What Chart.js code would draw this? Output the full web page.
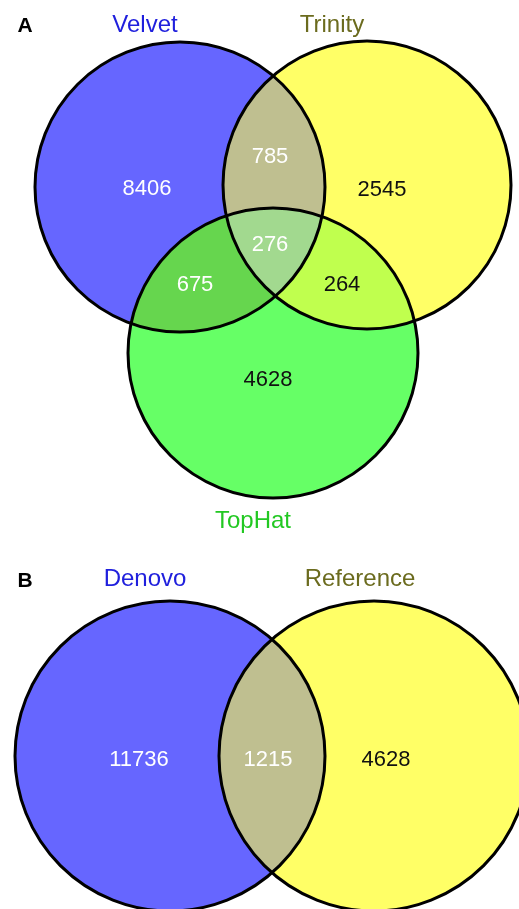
<!DOCTYPE html>
<html>
<head>
<meta charset="utf-8">
<script src="https://cdn.jsdelivr.net/npm/chart.js@4.4.1/dist/chart.umd.min.js"></script>
<style>
    body { margin: 0; background: #ffffff; }
    #box { width: 519px; height: 909px; position: relative; }
</style>
</head>
<body>
<div id="box"><canvas id="vennChart"></canvas></div>
<script>
// set names and region counts
const panelA = ['Velvet', 'Trinity', 'TopHat']
const countsA = [8406, 2545, 4628, 785, 675, 264, 276]   // V, T, H, VT, VH, TH, VTH
const panelB = ['Denovo', 'Reference']
const countsB = [11736, 1215, 4628]                       // D, D&R, R

// layout (chart units, y going down)
const circles = [
    { x: 180, y: 187, r: 145, color: '#6666ff' },
    { x: 367, y: 185, r: 144, color: '#ffff66' },
    { x: 273, y: 353, r: 145, color: '#66ff66' },
    { x: 170, y: 756, r: 155, color: '#6666ff' },
    { x: 374, y: 756, r: 155, color: '#ffff66' }
]
const overlaps = [
    { sets: [0, 1], color: '#bfbf90' },
    { sets: [0, 2], color: '#66d64e' },
    { sets: [1, 2], color: '#c0ff4e' },
    { sets: [0, 1, 2], color: '#a2d98f' },
    { sets: [3, 4], color: '#bfbf90' }
]
const nameSpots = [
    { x: 145, y: 32, color: '#2020dd' },
    { x: 332, y: 32, color: '#6b6b1e' },
    { x: 253, y: 528, color: '#22c822' },
    { x: 145, y: 586, color: '#2020dd' },
    { x: 360, y: 586, color: '#6b6b1e' }
]
const countSpotsA = [
    { x: 147, y: 187, color: '#ffffff' },
    { x: 382, y: 188, color: '#111111' },
    { x: 268, y: 378, color: '#111111' },
    { x: 270, y: 155, color: '#ffffff' },
    { x: 195, y: 283, color: '#ffffff' },
    { x: 342, y: 283, color: '#111111' },
    { x: 270, y: 243, color: '#ffffff' }
]
const countSpotsB = [
    { x: 139, y: 758, color: '#ffffff' },
    { x: 268, y: 758, color: '#ffffff' },
    { x: 386, y: 758, color: '#111111' }
]

const pixelRadius = function (ctx) {
    const sx = ctx.chart.scales.x
    const p = ctx.raw
    if (!p) return 0
    return sx.getPixelForValue(p.x + p.r) - sx.getPixelForValue(p.x)
}

const vennPlugin = {
    id: 'venn',
    afterDatasetDraw(chart, args) {
        if (args.index !== 1) return
        const ctx = chart.ctx
        const sx = chart.scales.x
        const sy = chart.scales.y
        const area = chart.chartArea
        overlaps.forEach(o => {
            ctx.save()
            ctx.beginPath()
            ctx.rect(area.left, area.top, area.width, area.height)
            ctx.clip()
            o.sets.forEach(i => {
                const c = circles[i]
                ctx.beginPath()
                ctx.arc(sx.getPixelForValue(c.x), sy.getPixelForValue(c.y),
                    sx.getPixelForValue(c.x + c.r) - sx.getPixelForValue(c.x), 0, Math.PI * 2)
                ctx.clip()
            })
            ctx.fillStyle = o.color
            ctx.fillRect(area.left, area.top, area.width, area.height)
            ctx.restore()
        })
    },
    afterDraw(chart) {
        const ctx = chart.ctx
        const sx = chart.scales.x
        const sy = chart.scales.y
        const put = function (text, spot, font) {
            ctx.font = font
            ctx.fillStyle = spot.color
            ctx.fillText(text, sx.getPixelForValue(spot.x), sy.getPixelForValue(spot.y))
        }
        ctx.save()
        ctx.textAlign = 'center'
        ctx.textBaseline = 'alphabetic'
        const labelFont = '24px "Liberation Sans", Arial, sans-serif'
        const numFont = '22px "Liberation Sans", Arial, sans-serif'
        const panelFont = 'bold 21px "Liberation Sans", Arial, sans-serif'
        panelA.forEach((n, i) => put(n, nameSpots[i], labelFont))
        panelB.forEach((n, i) => put(n, nameSpots[i + 3], labelFont))
        countsA.forEach((v, i) => put(String(v), { x: countSpotsA[i].x, y: countSpotsA[i].y + 8, color: countSpotsA[i].color }, numFont))
        countsB.forEach((v, i) => put(String(v), { x: countSpotsB[i].x, y: countSpotsB[i].y + 8, color: countSpotsB[i].color }, numFont))
        put('A', { x: 25, y: 32, color: '#000000' }, panelFont)
        put('B', { x: 25, y: 587, color: '#000000' }, panelFont)
        ctx.restore()
    }
}

const data = {
    datasets: [{
        label: 'outlines',
        data: circles.map(c => ({ x: c.x, y: c.y, r: c.r })),
        backgroundColor: 'rgba(0,0,0,0)',
        borderColor: '#000000',
        borderWidth: 3,
        pointRadius: pixelRadius,
        pointHoverRadius: pixelRadius
    }, {
        label: 'fills',
        data: circles.map(c => ({ x: c.x, y: c.y, r: c.r })),
        backgroundColor: circles.map(c => c.color),
        borderWidth: 0,
        pointRadius: pixelRadius,
        pointHoverRadius: pixelRadius
    }]
}

const config = {
    type: 'scatter',
    data: data,
    options: {
        responsive: true,
        maintainAspectRatio: false,
        animation: false,
        events: [],
        layout: { padding: 0 },
        plugins: { legend: { display: false }, tooltip: { enabled: false } },
        scales: {
            x: { type: 'linear', min: 0, max: 519, display: false },
            y: { type: 'linear', min: 0, max: 909, reverse: true, display: false }
        }
    },
    plugins: [vennPlugin]
}

const vennChart = new Chart(document.getElementById('vennChart'), config)
</script>
</body>
</html>
